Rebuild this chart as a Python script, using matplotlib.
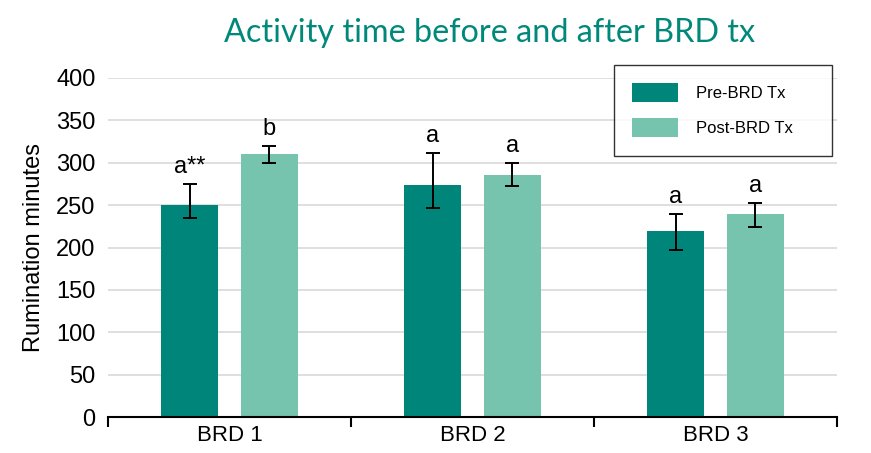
import matplotlib
matplotlib.use("Agg")
import matplotlib.pyplot as plt
import numpy as np

categories = ["BRD 1", "BRD 2", "BRD 3"]
series = ["Pre-BRD Tx", "Post-BRD Tx"]
pre_vals = [250, 274, 220]
post_vals = [310, 286, 240]
# asymmetric error bars (lower, upper)
pre_err_lo = [15, 27, 23]
pre_err_hi = [25, 38, 20]
post_err_lo = [10, 14, 16]
post_err_hi = [10, 14, 13]
pre_letters = ["a**", "a", "a"]
post_letters = ["b", "a", "a"]

PRE_C = "#00857a"
POST_C = "#76c3ae"
TITLE_C = "#00897b"

plt.rcParams["font.family"] = ["Liberation Sans", "DejaVu Sans"]

W, H = 871, 453
fig = plt.figure(figsize=(W / 100, H / 100), dpi=100)
ax = fig.add_axes([108 / W, (H - 417) / H, (837 - 108) / W, (417 - 78) / H])

x = np.arange(len(categories))
bw, off = 0.235, 0.163
err_kw = dict(ecolor="black", elinewidth=1.4, capsize=5, capthick=1.4)
ax.bar(x - off, pre_vals, bw, color=PRE_C, label=series[0], zorder=2,
       yerr=[pre_err_lo, pre_err_hi], error_kw=err_kw)
ax.bar(x + off, post_vals, bw, color=POST_C, label=series[1], zorder=2,
       yerr=[post_err_lo, post_err_hi], error_kw=err_kw)

for i in range(len(categories)):
    ax.annotate(pre_letters[i], (x[i] - off, pre_vals[i] + pre_err_hi[i]),
                xytext=(0, 4), textcoords="offset points", ha="center",
                va="bottom", fontsize=17)
    ax.annotate(post_letters[i], (x[i] + off, post_vals[i] + post_err_hi[i]),
                xytext=(0, 4), textcoords="offset points", ha="center",
                va="bottom", fontsize=17)

ax.set_xlim(-0.5, len(categories) - 0.5)
ax.set_ylim(0, 400)
ax.set_yticks(range(0, 401, 50))
ax.yaxis.grid(True, color="#d9d9d9", lw=1.2, zorder=0)
ax.set_axisbelow(True)
for s in ["top", "right", "left"]:
    ax.spines[s].set_visible(False)
ax.spines["bottom"].set_linewidth(1.5)
ax.tick_params(axis="y", length=0, labelsize=17, pad=9)

# category boundary ticks, labels centred between them
ax.set_xticks(np.arange(len(categories) + 1) - 0.5)
ax.set_xticklabels([])
ax.tick_params(axis="x", which="major", length=7, width=1.5, direction="out")
ax.set_xticks(x, minor=True)
ax.set_xticklabels(categories, minor=True, fontsize=16)
ax.tick_params(axis="x", which="minor", length=0, pad=6)

ax.set_ylabel("Rumination minutes", fontsize=17, labelpad=8)

leg = ax.legend(loc="upper left",
                bbox_to_anchor=(614 / W, (H - 158) / H, (832 - 614) / W, 93 / H),
                bbox_transform=fig.transFigure, borderaxespad=0, mode="expand",
                fontsize=12, frameon=True, fancybox=False, edgecolor="black",
                handlelength=2.75, handleheight=1.38, handletextpad=1.1,
                labelspacing=0.95, borderpad=1.1)
leg.get_frame().set_linewidth(1.0)

fig.text(490 / W, (H - 33) / H, "Activity time before and after BRD tx",
         ha="center", va="center", fontsize=23.3, color=TITLE_C, family="Lato")

fig.savefig("out.png", dpi=100)
